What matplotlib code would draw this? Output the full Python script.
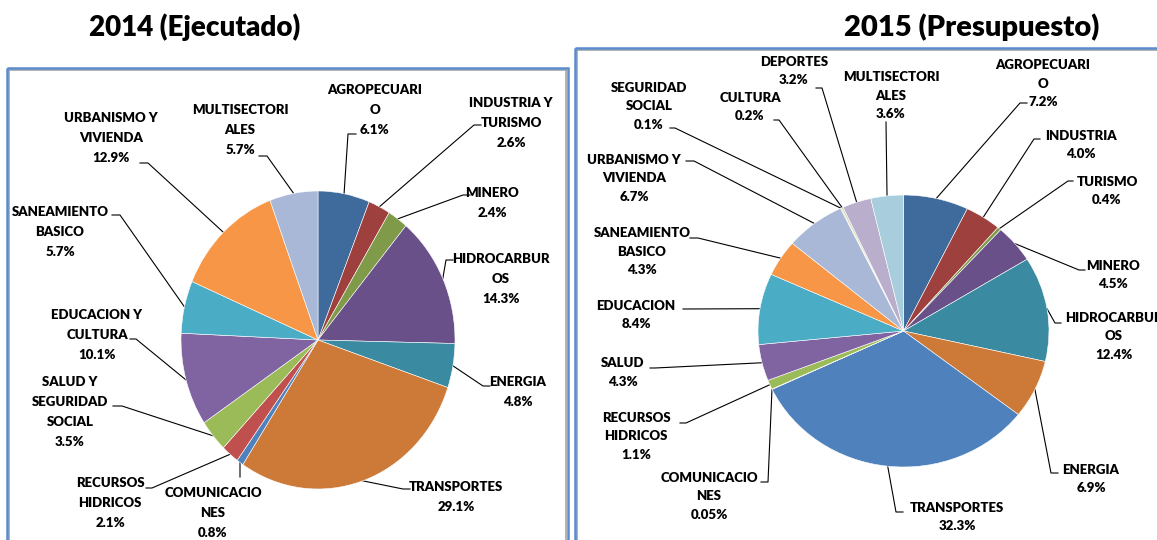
import matplotlib
matplotlib.use('Agg')
import matplotlib.pyplot as plt
from matplotlib import font_manager
from matplotlib.patches import Rectangle
import numpy as np

# Sectors and shares (%) - 2014 executed
sectors_2014 = ['AGROPECUARI\nO', 'INDUSTRIA Y\nTURISMO', 'MINERO', 'HIDROCARBUR\nOS',
                'ENERGIA', 'TRANSPORTES', 'COMUNICACIO\nNES', 'RECURSOS\nHIDRICOS',
                'SALUD Y\nSEGURIDAD\nSOCIAL', 'EDUCACION Y\nCULTURA', 'SANEAMIENTO\nBASICO',
                'URBANISMO Y\nVIVIENDA', 'MULTISECTORI\nALES']
shares_2014 = [6.1, 2.6, 2.4, 14.3, 4.8, 29.1, 0.8, 2.1, 3.5, 10.1, 5.7, 12.9, 5.7]

# Sectors and shares (%) - 2015 budget
sectors_2015 = ['AGROPECUARI\nO', 'INDUSTRIA', 'TURISMO', 'MINERO', 'HIDROCARBUR\nOS',
                'ENERGIA', 'TRANSPORTES', 'COMUNICACIO\nNES', 'RECURSOS\nHIDRICOS', 'SALUD',
                'EDUCACION', 'SANEAMIENTO\nBASICO', 'URBANISMO Y\nVIVIENDA', 'SEGURIDAD\nSOCIAL',
                'CULTURA', 'DEPORTES', 'MULTISECTORI\nALES']
shares_2015 = [7.2, 4.0, 0.4, 4.5, 12.4, 6.9, 32.3, 0.05, 1.1, 4.3, 8.4, 4.3, 6.7, 0.1, 0.2, 3.2, 3.6]

# office-like palette: darker, normal, lighter cycles
dark = ['#3F6A9C', '#9E403D', '#7F9A48', '#6A5089', '#3A8BA1', '#CD7A39']
normal = ['#4F81BD', '#C0504D', '#9BBB59', '#8064A2', '#4BACC6', '#F79646']
light = ['#A9B8D7', '#D9A7A6', '#C7D9A5', '#B9AECB', '#A8CEDD', '#F9C9A3']
palette = dark + normal + light

W, H = 1157, 540

# pie geometry in pixels: center x, center y, radius x, radius y
geo_2014 = (318, 340, 137, 149)
geo_2015 = (903.5, 331, 145.5, 136)

# label layout (pixels): text center x, first line y, elbow, end of leader
layout_2014 = [
    (375, 90, (348, 134), (356, 134)),
    (511, 103, (474, 125), (481, 125)),
    (492, 193, (463, 195), (470, 195)),
    (501, 259, (446, 260), (453, 260)),
    (518, 382, (483, 386), (490, 386)),
    (456, 487, (403, 489), (410, 489)),
    (213, 493, (240, 477), (240, 477)),
    (110, 483, (152, 488), (146, 488)),
    (70, 382, (122, 406), (113, 406)),
    (97, 315, (136, 339), (130, 339)),
    (60, 212, (120, 215), (112, 215)),
    (111, 118, (148, 163), (140, 163)),
    (240, 110, (267, 156), (259, 156)),
]
layout_2015 = [
    (1043, 65, (1020, 103), (1027, 103)),
    (1081, 136, (1034, 139), (1040, 139)),
    (1107, 182, (1068, 181), (1073, 181)),
    (1113, 266, (1079, 270), (1085, 270)),
    (1114, 318, (1055, 323), (1061, 323)),
    (1091, 470, (1051, 473), (1058, 473)),
    (957, 508, (896, 512), (903, 512)),
    (709, 478, (768, 482), (761, 482)),
    (636, 418, (686, 423), (680, 423)),
    (623, 363, (655, 368), (650, 368)),
    (636, 306, (683, 309), (683, 309)),
    (642, 233, (698, 238), (690, 238)),
    (634, 160, (694, 161), (686, 161)),
    (649, 88, (675, 128), (670, 128)),
    (750, 98, (779, 120), (774, 120)),
    (794, 62, (822, 88), (816, 88)),
    (891, 77, (886, 122), (886, 122)),
]

available = {f.name for f in font_manager.fontManager.ttflist}
label_font = 'Lato' if 'Lato' in available else 'DejaVu Sans'


def fmt(v):
    return f'{v:.2f}%' if v < 0.1 else f'{v:.1f}%'


def draw_pie(fig, bg, geo, names, shares, layout, step):
    cx, cy, rx, ry = geo
    ax = fig.add_axes([(cx - rx) / W, (H - cy - ry) / H, 2 * rx / W, 2 * ry / H])
    wedges, _ = ax.pie(shares, colors=palette[:len(shares)], startangle=90,
                       counterclock=False, radius=1,
                       wedgeprops=dict(edgecolor='white', linewidth=0.4))
    ax.set_xlim(-1, 1)
    ax.set_ylim(-1, 1)
    ax.set_aspect('auto')
    ax.axis('off')

    for w, name, v, (tx, ty, elbow, end) in zip(wedges, names, shares, layout):
        mid = np.deg2rad((w.theta1 + w.theta2) / 2)
        ex = cx + rx * np.cos(mid)
        ey = cy - ry * np.sin(mid)
        bg.plot([ex, elbow[0], end[0]], [ey, elbow[1], end[1]], color='black', lw=0.8)
        lines = name.split('\n') + [fmt(v)]
        for i, line in enumerate(lines):
            bg.text(tx, ty + i * step, line, ha='center', va='center', fontsize=9.5,
                    fontweight='heavy', family=label_font, color='black')


fig = plt.figure(figsize=(W / 100, H / 100), dpi=100)
bg = fig.add_axes([0, 0, 1, 1])
bg.set_xlim(0, W)
bg.set_ylim(H, 0)
bg.axis('off')

# panel frames
bg.add_patch(Rectangle((9, 70), 557, 480, fill=False, edgecolor='#A6A6A6', lw=1.2))
bg.add_patch(Rectangle((7, 68), 561, 490, fill=False, edgecolor='#5B8CCB', lw=1.8))
bg.add_patch(Rectangle((577, 50), 600, 500, fill=False, edgecolor='#A6A6A6', lw=1.2))
bg.add_patch(Rectangle((575, 48), 600, 510, fill=False, edgecolor='#5B8CCB', lw=1.8))

# titles
bg.text(195, 27, '2014 (Ejecutado)', ha='center', va='center', fontsize=20,
        fontweight='heavy', family=label_font, color='black')
bg.text(972, 27, '2015 (Presupuesto)', ha='center', va='center', fontsize=21,
        fontweight='heavy', family=label_font, color='black')

draw_pie(fig, bg, geo_2014, sectors_2014, shares_2014, layout_2014, 20)
draw_pie(fig, bg, geo_2015, sectors_2015, shares_2015, layout_2015, 18.5)

fig.savefig('out.png', dpi=100)
